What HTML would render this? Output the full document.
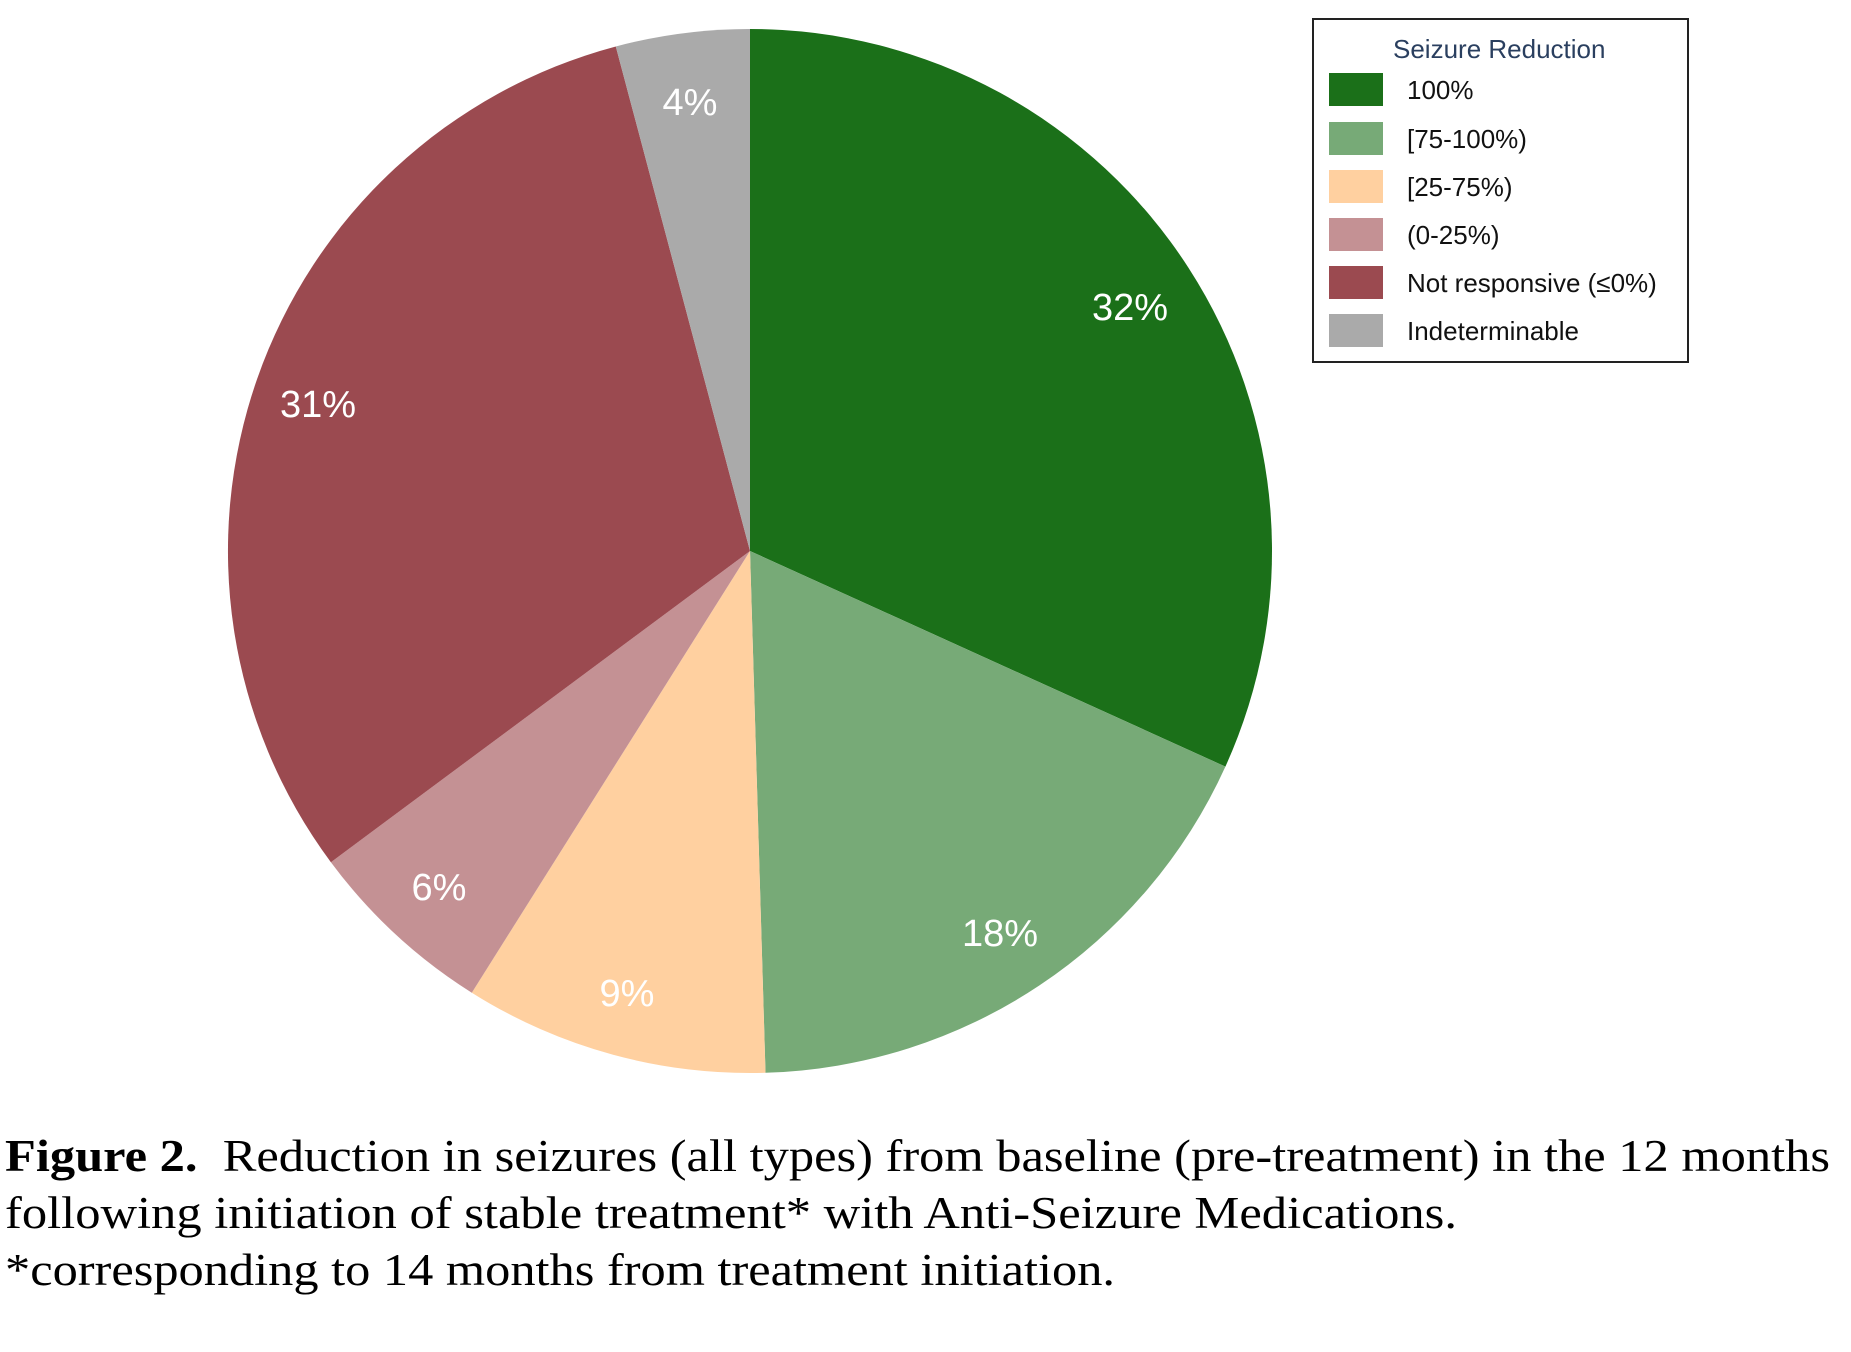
<!DOCTYPE html>
<html><head><meta charset="utf-8"><style>
html,body{margin:0;padding:0;background:#fff;}
</style></head><body>
<svg width="1851" height="1347" viewBox="0 0 1851 1347" xmlns="http://www.w3.org/2000/svg">
<rect width="1851" height="1347" fill="#fff"/>
<path d="M750,551 L750,29 A522,522 0 0 1 1225.4,766.6 Z" fill="#1b7019"/>
<path d="M750,551 L1225.4,766.6 A522,522 0 0 1 765.5,1072.8 Z" fill="#77aa77"/>
<path d="M750,551 L765.5,1072.8 A522,522 0 0 1 471.8,992.7 Z" fill="#ffd0a0"/>
<path d="M750,551 L471.8,992.7 A522,522 0 0 1 330.9,862.2 Z" fill="#c49194"/>
<path d="M750,551 L330.9,862.2 A522,522 0 0 1 615.8,46.5 Z" fill="#9b4a50"/>
<path d="M750,551 L615.8,46.5 A522,522 0 0 1 750,29 Z" fill="#aaaaaa"/>
<g font-family="Liberation Sans, Arial, sans-serif" font-size="38" fill="#fff" text-anchor="middle">
<text x="1130" y="320">32%</text>
<text x="1000" y="946">18%</text>
<text x="627" y="1006">9%</text>
<text x="439" y="900">6%</text>
<text x="318" y="417">31%</text>
<text x="690" y="115">4%</text>
</g>
<rect x="1313" y="19" width="375" height="343" fill="#fff" stroke="#222" stroke-width="2"/>
<g font-family="Liberation Sans, Arial, sans-serif" font-size="26">
<text x="1393" y="58" fill="#2a3f5f">Seizure Reduction</text>
<rect x="1329" y="73" width="54" height="33" fill="#1b7019"/>
<rect x="1329" y="122" width="54" height="33" fill="#77aa77"/>
<rect x="1329" y="170" width="54" height="33" fill="#ffd0a0"/>
<rect x="1329" y="218" width="54" height="33" fill="#c49194"/>
<rect x="1329" y="266" width="54" height="33" fill="#9b4a50"/>
<rect x="1329" y="314" width="54" height="33" fill="#aaaaaa"/>
<g fill="#111">
<text x="1407" y="99">100%</text>
<text x="1407" y="148">[75-100%)</text>
<text x="1407" y="196">[25-75%)</text>
<text x="1407" y="244">(0-25%)</text>
<text x="1407" y="292">Not responsive (≤0%)</text>
<text x="1407" y="340">Indeterminable</text>
</g></g>
<g font-family="Liberation Serif, Times New Roman, serif" font-size="45" fill="#000">
<text x="5" y="1171" textLength="1825" lengthAdjust="spacingAndGlyphs"><tspan font-weight="bold">Figure 2.</tspan>&#160;&#160;Reduction in seizures (all types) from baseline (pre-treatment) in the 12 months</text>
<text x="5" y="1228" textLength="1452" lengthAdjust="spacingAndGlyphs">following initiation of stable treatment* with Anti-Seizure Medications.</text>
<text x="5" y="1285" textLength="1110" lengthAdjust="spacingAndGlyphs">*corresponding to 14 months from treatment initiation.</text>
</g>
</svg>
</body></html>
